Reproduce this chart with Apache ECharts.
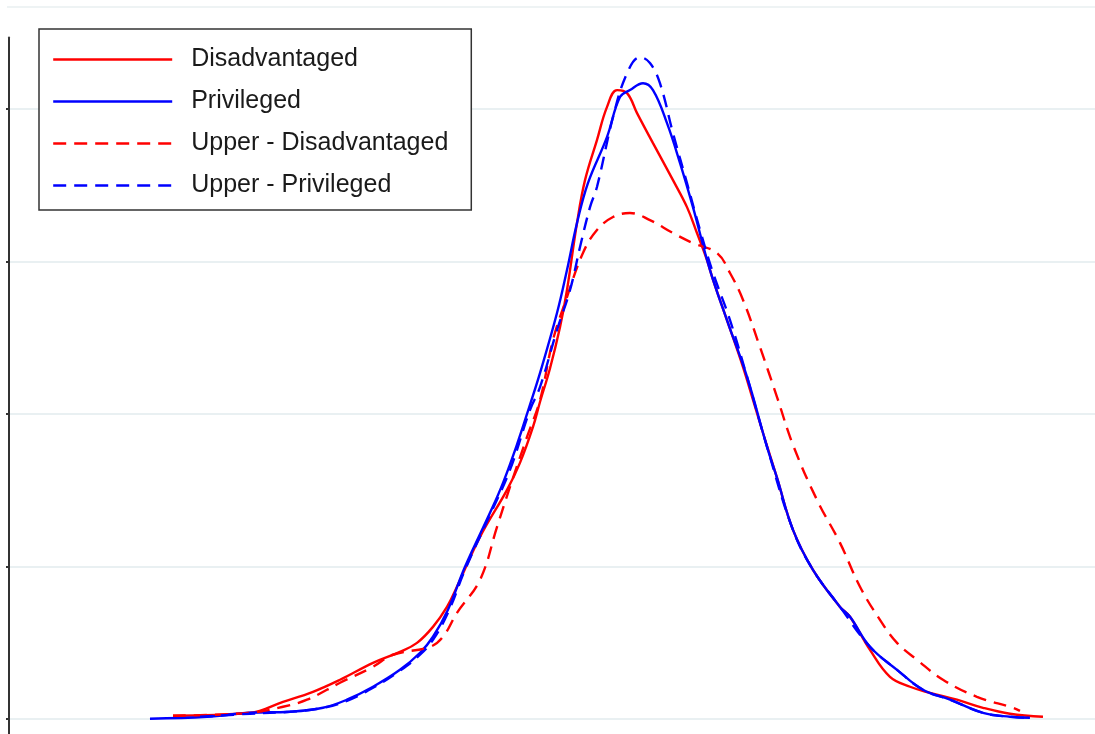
<!DOCTYPE html>
<html>
<head>
<meta charset="utf-8">
<script src="https://cdn.jsdelivr.net/npm/echarts@6/dist/echarts.min.js"></script>
<style>
  html, body { margin: 0; padding: 0; background: #ffffff; }
  #chart { width: 1095px; height: 734px; }
</style>
</head>
<body>
<div id="chart"></div>
<script>
// Series names
const seriesNames = ['Disadvantaged', 'Privileged', 'Upper - Disadvantaged', 'Upper - Privileged'];

// Gridline (tick) values on the density axis
const yTickValues = [0, 1, 2, 3, 4];

// Each series: [x, density] pairs
const disadvantaged = [
  [15.10,0.020],[22.19,0.039],[25.23,0.111],[27.99,0.177],[30.48,0.256],[33.52,0.367],
  [36.00,0.439],[37.57,0.498],[39.04,0.603],[40.33,0.734],[41.25,0.866],[43.37,1.193],
  [45.86,1.502],[47.05,1.679],[48.25,1.915],[48.90,2.080],[49.82,2.300],
  [50.74,2.570],[51.38,2.813],[52.30,3.252],[53.04,3.534],[54.14,3.797],[55.06,4.013],
  [55.99,4.125],[56.91,4.105],[57.83,3.974],[59.30,3.777],[61.14,3.534],[62.43,3.357],
  [63.35,3.187],[64.27,3.010],[64.83,2.879],[66.11,2.616],[67.59,2.308],[68.51,2.092],
  [69.43,1.875],[70.72,1.580],[72.19,1.239],[74.03,0.977],[76.52,0.734],[77.44,0.669],
  [79.28,0.452],[81.12,0.275],[82.97,0.210],[84.81,0.170],[87.29,0.125],[89.69,0.072],
  [92.17,0.033],[95.21,0.013]
];

const privileged = [
  [12.98,0.000],[18.23,0.013],[22.19,0.039],[25.87,0.046],[28.91,0.072],[31.12,0.125],
  [33.52,0.210],[36.00,0.321],[37.85,0.433],[39.04,0.538],[40.42,0.715],[41.99,0.997],
  [44.29,1.351],[45.49,1.548],[46.78,1.800],[47.97,2.060],[48.90,2.269],[50.46,2.662],
  [51.38,2.944],[52.30,3.252],[53.31,3.515],[55.06,3.816],[56.26,4.079],[57.18,4.125],
  [58.38,4.170],[59.30,4.125],[60.59,3.908],[61.79,3.646],[62.98,3.357],[64.55,2.944],
  [66.11,2.616],[67.96,2.243],[69.80,1.784],[70.72,1.580],[72.19,1.239],[74.03,0.977],
  [76.52,0.734],[77.44,0.669],[79.28,0.472],[81.77,0.321],[84.16,0.190],[86.65,0.125],
  [89.69,0.039],[92.17,0.013],[94.01,0.007]
];

const upperDisadvantaged = [
  [15.10,0.020],[22.19,0.039],[25.23,0.079],[27.44,0.125],[30.48,0.236],[33.52,0.341],
  [35.36,0.420],[38.77,0.472],[39.96,0.538],[41.25,0.695],[43.37,0.911],[44.94,1.259],
  [46.13,1.521],[47.70,1.849],[48.90,2.092],[50.09,2.485],[51.38,2.767],[52.85,3.056],
  [54.14,3.207],[55.62,3.292],[57.18,3.318],[59.02,3.272],[61.14,3.187],[62.98,3.121],
  [65.19,3.056],[66.39,2.925],[67.59,2.748],[69.15,2.439],[70.72,2.111],[72.19,1.797],
  [74.40,1.436],[76.52,1.154],[78.36,0.866],[80.20,0.649],[81.77,0.498],[83.61,0.387],
  [86.00,0.256],[89.13,0.144],[92.45,0.072],[93.09,0.052]
];

const upperPrivileged = [
  [17.59,0.013],[22.19,0.033],[25.87,0.046],[28.91,0.072],[31.12,0.118],[33.52,0.203],
  [36.00,0.315],[37.85,0.420],[39.04,0.518],[40.42,0.695],[41.99,0.977],[44.29,1.338],
  [46.13,1.633],[47.97,2.026],[48.90,2.177],[50.46,2.551],[51.66,2.813],[52.58,3.095],
  [53.50,3.357],[54.14,3.489],[55.62,3.948],[56.91,4.236],[58.10,4.341],[59.02,4.302],
  [59.94,4.170],[61.14,3.843],[62.43,3.515],[63.63,3.207],[64.83,2.925],[66.39,2.616],
  [67.96,2.243],[69.80,1.784],[72.19,1.239],[74.03,0.977],[76.52,0.734],[79.28,0.472],
  [81.77,0.321],[84.16,0.190],[86.65,0.125],[89.69,0.039],[92.17,0.013],[94.01,0.007]
];

const RED = '#ff0000';
const BLUE = '#0000ff';
const DASH = [13, 8];

const chart = echarts.init(document.getElementById('chart'), null, { renderer: 'canvas' });

function lineSeries(name, data, color, dashed) {
  return {
    name: name,
    type: 'line',
    data: data,
    symbol: 'none',
    showSymbol: false,
    smooth: 0.4,
    animation: false,
    lineStyle: { color: color, width: 2.4, type: dashed ? DASH : 'solid' },
    itemStyle: { color: color }
  };
}

chart.setOption({
  animation: false,
  backgroundColor: '#ffffff',
  grid: { left: 9, right: 0, top: 37.5, bottom: 0, containLabel: false },
  xAxis: {
    type: 'value', min: 0, max: 100,
    show: false
  },
  yAxis: {
    type: 'value', min: -0.1, max: 4.47,
    axisLine: { show: true, lineStyle: { color: '#333333', width: 2 } },
    axisTick: { show: true, length: 3, customValues: yTickValues, lineStyle: { color: '#333333', width: 2 } },
    axisLabel: { show: false, customValues: yTickValues },
    splitLine: { show: true, lineStyle: { color: '#e9f0f2', width: 2 } }
  },
  graphic: [
    { type: 'rect', left: 7, top: 6, shape: { width: 1088, height: 2 }, style: { fill: '#eef3f4' }, silent: true }
  ],
  legend: {
    orient: 'vertical',
    left: 39, top: 29,
    data: seriesNames,
    backgroundColor: '#ffffff',
    borderColor: '#333333',
    borderWidth: 1.5,
    borderRadius: 0,
    padding: [18, 23, 12, 13],
    itemWidth: 119,
    itemHeight: 14,
    itemGap: 17,
    itemStyle: { opacity: 0, borderWidth: 0 },
    lineStyle: { width: 2.4 },
    textStyle: {
      fontFamily: 'Liberation Sans, Arial, sans-serif',
      fontSize: 25,
      color: '#1a1a1a',
      padding: [0, 0, 0, 14]
    }
  },
  series: [
    lineSeries(seriesNames[0], disadvantaged, RED, false),
    lineSeries(seriesNames[1], privileged, BLUE, false),
    lineSeries(seriesNames[2], upperDisadvantaged, RED, true),
    lineSeries(seriesNames[3], upperPrivileged, BLUE, true)
  ]
});
</script>
</body>
</html>
